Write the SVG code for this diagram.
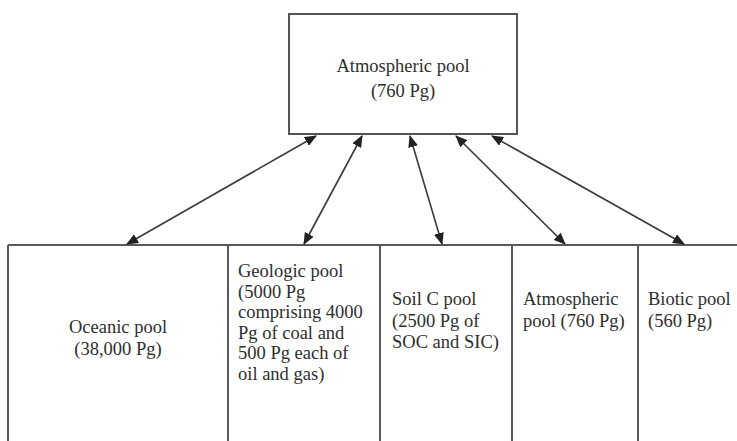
<svg xmlns="http://www.w3.org/2000/svg" width="737" height="441" viewBox="0 0 737 441">
<style>
  .box { fill: #ffffff; stroke: #555555; stroke-width: 2; }
  .cell { stroke: #5a5a5a; stroke-width: 2; fill: none; }
  .conn { stroke: #3a3a3a; stroke-width: 1.6; fill: none; marker-start: url(#ah); marker-end: url(#ah); }
  text { font-family: "Liberation Serif", "Times New Roman", serif; font-size: 18.5px; fill: #2e2e2e; }
  .c { text-anchor: middle; }
</style>
<defs>
  <marker id="ah" viewBox="0 0 12 10" refX="11" refY="5" markerWidth="12" markerHeight="10" markerUnits="userSpaceOnUse" orient="auto-start-reverse">
    <path d="M0,0 L12,5 L0,10 Z" fill="#222222"/>
  </marker>
</defs>
<rect width="737" height="441" fill="#ffffff"/>

<g id="atmospheric-top">
  <rect class="box" x="289" y="14" width="228" height="120"/>
  <text class="c" x="403" y="72">Atmospheric pool</text>
  <text class="c" x="403" y="97">(760 Pg)</text>
</g>

<g id="row-frame">
  <line class="cell" x1="8" y1="245" x2="737" y2="245"/>
</g>

<g id="oceanic">
  <line class="cell" x1="8" y1="245" x2="8" y2="441"/>
  <text class="c" x="118" y="333">Oceanic pool</text>
  <text class="c" x="118" y="355">(38,000 Pg)</text>
</g>

<g id="geologic">
  <line class="cell" x1="228" y1="245" x2="228" y2="441"/>
  <text x="238" y="277">Geologic pool</text>
  <text x="238" y="297.5">(5000 Pg</text>
  <text x="238" y="318">comprising 4000</text>
  <text x="238" y="338.5">Pg of coal and</text>
  <text x="238" y="359">500 Pg each of</text>
  <text x="238" y="379.5">oil and gas)</text>
</g>

<g id="soil">
  <line class="cell" x1="380" y1="245" x2="380" y2="441"/>
  <text x="392" y="305">Soil C pool</text>
  <text x="392" y="326.5">(2500 Pg of</text>
  <text x="392" y="348">SOC and SIC)</text>
</g>

<g id="atmospheric-bottom">
  <line class="cell" x1="512" y1="245" x2="512" y2="441"/>
  <text x="523" y="305">Atmospheric</text>
  <text x="523" y="326.5">pool (760 Pg)</text>
</g>

<g id="biotic">
  <line class="cell" x1="638" y1="245" x2="638" y2="441"/>
  <text x="648" y="305">Biotic pool</text>
  <text x="648" y="326.5">(560 Pg)</text>
</g>

<g id="connectors">
  <line class="conn" x1="316" y1="136" x2="127" y2="244"/>
  <line class="conn" x1="362" y1="136" x2="304" y2="244"/>
  <line class="conn" x1="410" y1="136" x2="442" y2="244"/>
  <line class="conn" x1="456" y1="136" x2="565" y2="244"/>
  <line class="conn" x1="492" y1="136" x2="684" y2="244"/>
</g>
</svg>
